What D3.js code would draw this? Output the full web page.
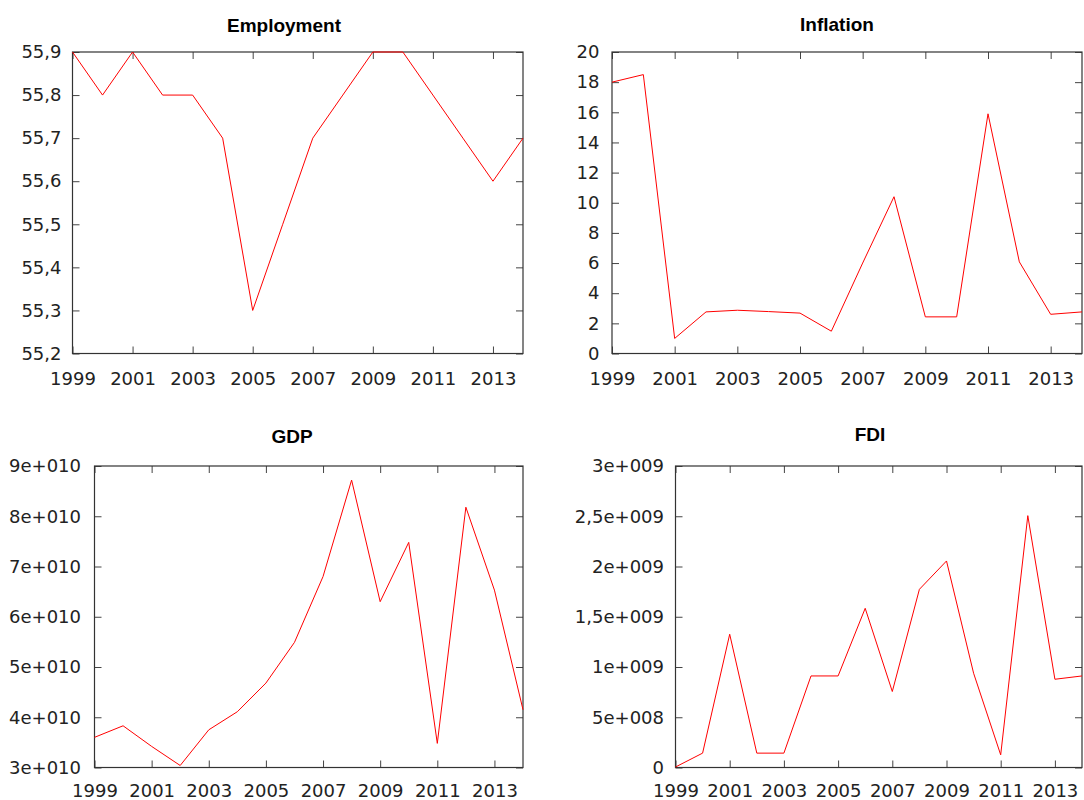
<!DOCTYPE html>
<html>
<head>
<meta charset="utf-8">
<script src="https://cdn.jsdelivr.net/npm/d3@7"></script>
<style>
  html, body { margin: 0; padding: 0; background: #fff; }
  svg { display: block; }
  .tick text { font-family: "DejaVu Sans", Verdana, sans-serif; font-size: 18px; fill: #222; }
  .title { font-family: "Liberation Sans", Arial, sans-serif; font-size: 19px; font-weight: bold; fill: #000; }
</style>
</head>
<body>
<svg id="chart" width="1084" height="800"></svg>
<script>
// Annual series, 1999-2014
const years = [1999, 2000, 2001, 2002, 2003, 2004, 2005, 2006, 2007, 2008, 2009, 2010, 2011, 2012, 2013, 2014];

const employment = [55.9, 55.8, 55.9, 55.8, 55.8, 55.7, 55.3, 55.5, 55.7, 55.8, 55.9, 55.9, 55.8, 55.7, 55.6, 55.7];
const inflation  = [18.0, 18.5, 1.0, 2.76, 2.87, 2.78, 2.68, 1.48, 6.0, 10.4, 2.43, 2.43, 15.9, 6.08, 2.6, 2.76];
const gdp        = [3.6e10, 3.83e10, 3.42e10, 3.04e10, 3.75e10, 4.11e10, 4.68e10, 5.49e10, 6.8e10, 8.72e10, 6.3e10, 7.48e10, 3.48e10, 8.18e10, 6.53e10, 4.15e10];
const fdi        = [0.005e9, 0.143e9, 1.326e9, 0.143e9, 0.143e9, 0.911e9, 0.911e9, 1.584e9, 0.756e9, 1.773e9, 2.055e9, 0.938e9, 0.126e9, 2.506e9, 0.878e9, 0.911e9];

// Axis ticks and their printed labels
const xTicks = [1999, 2001, 2003, 2005, 2007, 2009, 2011, 2013];

const empTicks  = [55.2, 55.3, 55.4, 55.5, 55.6, 55.7, 55.8, 55.9];
const empLabels = ["55,2", "55,3", "55,4", "55,5", "55,6", "55,7", "55,8", "55,9"];

const inflTicks  = [0, 2, 4, 6, 8, 10, 12, 14, 16, 18, 20];
const inflLabels = ["0", "2", "4", "6", "8", "10", "12", "14", "16", "18", "20"];

const gdpTicks  = [3e10, 4e10, 5e10, 6e10, 7e10, 8e10, 9e10];
const gdpLabels = ["3e+010", "4e+010", "5e+010", "6e+010", "7e+010", "8e+010", "9e+010"];

const fdiTicks  = [0, 5e8, 1e9, 1.5e9, 2e9, 2.5e9, 3e9];
const fdiLabels = ["0", "5e+008", "1e+009", "1,5e+009", "2e+009", "2,5e+009", "3e+009"];

const panels = [
  { title: "Employment", values: employment, ticks: empTicks, labels: empLabels,
    box: { left: 72.5, right: 523, top: 52, bottom: 353.5 }, titleX: 284, titleY: 32, yPad: 11, xPad: 18.5 },
  { title: "Inflation", values: inflation, ticks: inflTicks, labels: inflLabels,
    box: { left: 612, right: 1082, top: 52, bottom: 353.5 }, titleX: 837, titleY: 31, yPad: 12.5, xPad: 18.5 },
  { title: "GDP", values: gdp, ticks: gdpTicks, labels: gdpLabels,
    box: { left: 94.5, right: 523, top: 466, bottom: 767.5 }, titleX: 292, titleY: 443, yPad: 13.5, xPad: 16.5 },
  { title: "FDI", values: fdi, ticks: fdiTicks, labels: fdiLabels,
    box: { left: 675.5, right: 1082, top: 466, bottom: 767.5 }, titleX: 870, titleY: 441, yPad: 11.5, xPad: 16.5 }
];

const svg = d3.select("#chart");
const TICK = 7;

panels.forEach(p => {
  const b = p.box;
  const x = d3.scaleLinear().domain([1999, 2014]).range([b.left, b.right]);
  const y = d3.scaleLinear().domain([p.ticks[0], p.ticks[p.ticks.length - 1]]).range([b.bottom, b.top]);
  const labelOf = v => p.labels[p.ticks.indexOf(v)];

  const g = svg.append("g");

  // ticks point inward on all four sides
  g.append("g").attr("transform", `translate(0,${b.bottom})`)
    .call(d3.axisBottom(x).tickValues(xTicks).tickFormat(d3.format("d"))
      .tickSizeInner(-TICK).tickSizeOuter(0).tickPadding(p.xPad));
  g.append("g").attr("transform", `translate(0,${b.top})`)
    .call(d3.axisTop(x).tickValues(xTicks).tickFormat("")
      .tickSizeInner(-TICK).tickSizeOuter(0));
  g.append("g").attr("transform", `translate(${b.left},0)`)
    .call(d3.axisLeft(y).tickValues(p.ticks).tickFormat(labelOf)
      .tickSizeInner(-TICK).tickSizeOuter(0).tickPadding(p.yPad));
  g.append("g").attr("transform", `translate(${b.right},0)`)
    .call(d3.axisRight(y).tickValues(p.ticks).tickFormat("")
      .tickSizeInner(-TICK).tickSizeOuter(0));

  g.selectAll(".domain").remove();
  g.selectAll(".tick line").attr("stroke", "#444");
  g.selectAll(".tick text").attr("fill", "#222");

  // frame
  g.append("rect")
    .attr("x", b.left).attr("y", b.top)
    .attr("width", b.right - b.left).attr("height", b.bottom - b.top)
    .attr("fill", "none").attr("stroke", "#333").attr("stroke-width", 1.2);

  // series line
  const line = d3.line().x((d, i) => x(years[i])).y(d => y(d));
  g.append("path")
    .datum(p.values)
    .attr("d", line)
    .attr("fill", "none")
    .attr("stroke", "#ff0000")
    .attr("stroke-width", 1);

  g.append("text")
    .attr("class", "title")
    .attr("x", p.titleX).attr("y", p.titleY)
    .attr("text-anchor", "middle")
    .text(p.title);
});
</script>
</body>
</html>
